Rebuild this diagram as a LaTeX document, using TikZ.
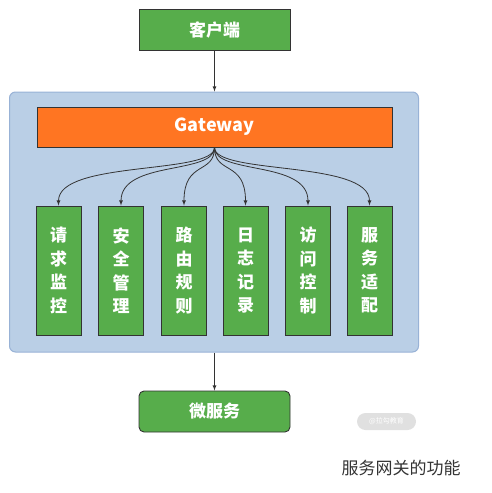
\documentclass[tikz,border=0pt]{standalone}
\usepackage{fontspec}
\newfontfamily\cjk{Noto Sans CJK SC}
\definecolor{boxgreen}{RGB}{87,173,75}
\definecolor{gworange}{RGB}{255,117,34}
\definecolor{areablue}{RGB}{186,207,230}
\definecolor{areaedge}{RGB}{152,178,214}
\definecolor{captext}{RGB}{51,51,51}
\tikzset{
  panel/.style={draw=areaedge, fill=areablue, rounded corners=6pt, line width=1pt,
    minimum width=409pt, minimum height=260pt, inner sep=0pt},
  hdr/.style={draw=black!80, fill=boxgreen, line width=0.9pt, text=white,
    minimum width=151pt, minimum height=41pt, inner sep=0pt,
    font=\cjk\bfseries\fontsize{17}{20}\selectfont},
  gwbox/.style={draw=black!80, fill=gworange, line width=0.9pt, text=white,
    minimum width=355pt, minimum height=40pt, inner sep=0pt,
    font=\cjk\bfseries\fontsize{18}{20}\selectfont},
  func/.style={draw=black!80, fill=boxgreen, line width=0.9pt, text=white,
    minimum width=45pt, minimum height=129pt, inner sep=0pt, align=center,
    font=\cjk\bfseries\fontsize{17}{23.5}\selectfont},
  arr/.style={-latex, line width=0.8pt, black!80},
}
\begin{document}
\begin{tikzpicture}[x=1pt,y=-1pt]
\useasboundingbox (0,0) rectangle (492,493);

\node[panel] (gwarea) at (214,222) {};
\node[hdr] (client) at (214.5,29.5) {客户端};
\node[gwbox] (gw) at (214.5,127) {Gateway};

\draw[arr] (client.south) -- (client.south |- gwarea.north);

% functions below the gateway
\foreach \x/\name/\ftext in {58.5/qqjk/请\\求\\监\\控, 121/aqgl/安\\全\\管\\理,
  184/lygz/路\\由\\规\\则, 245.5/rzjl/日\\志\\记\\录,
  308/fwkz/访\\问\\控\\制, 369.5/fwsp/服\\务\\适\\配}
{
\node[func] (\name) at (\x,270.5) {\ftext};
\draw[arr] (gw.south) .. controls (214.5,175) and (\x,160) .. (\name.north);
}

\node[hdr, rounded corners=5pt] (ms) at (214.5,411.5) {微服务};
\draw[arr] (gwarea.south -| ms.north) -- (ms.north);

\node[fill=black!12, rounded corners=8.5pt, minimum width=59pt, minimum height=17pt,
  inner sep=0pt, text=white, font=\cjk\fontsize{7}{8}\selectfont] (wm) at (386.5,421.5) {@拉勾教育};
\node[text=captext, inner sep=0pt, font=\cjk\fontsize{17}{20}\selectfont] (cap) at (401,468) {服务网关的功能};
\end{tikzpicture}
\end{document}
